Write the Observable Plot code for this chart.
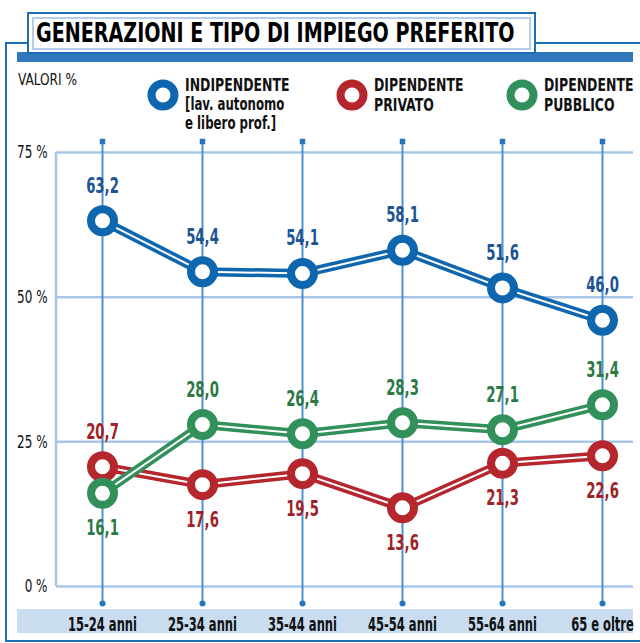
<!DOCTYPE html>
<html>
<head>
<meta charset="utf-8">
<script src="https://cdn.jsdelivr.net/npm/d3@7"></script>
<script src="https://cdn.jsdelivr.net/npm/@observablehq/plot@0.6"></script>
<style>
  html, body { margin: 0; padding: 0; background: #fff; }
  body { font-family: "DejaVu Sans Condensed", "Liberation Sans Narrow", sans-serif; }
  #wrap { position: relative; width: 640px; height: 643px; overflow: hidden; background: #fff; }
  .abs { position: absolute; }
  #frame { left: 5px; top: 42px; width: 700px; height: 596px; border: 2.5px solid #1b6db5; }
  #bandTop { left: 17px; top: 52px; width: 616px; height: 10px; background: #2f78bc; }
  #bandBottom { left: 17px; top: 609px; width: 616px; height: 24px; background: #c9dcf0; }
  #title { left: 27px; top: 12px; width: 505px; height: 38px; border: 2.5px solid #1d6db5; background: #fff; padding: 0; }
  #titleInner { position: absolute; left: 3px; top: 3px; right: 3px; bottom: 2px; border: 2px solid #b3cdea; }
  #titleText { position: absolute; left: 2px; top: -1px; font-weight: bold; font-size: 26px; line-height: 30px; color: #000; white-space: nowrap; transform: scaleX(0.817); transform-origin: 0 50%; }
  #valori { left: 18px; top: 71px; font-size: 15px; line-height: 18px; color: #111; white-space: nowrap; transform: scaleX(0.9); transform-origin: 0 50%; }
  .legText { font-weight: bold; font-size: 18px; line-height: 19.5px; color: #111; white-space: nowrap; top: 75px; transform: scaleX(0.77); transform-origin: 0 50%; }
  .legText .small { font-size: 17px; }
  #chart { left: 0; top: 0; }
  #chart svg { overflow: visible; }
  g[aria-label="x-axis tick label"] text { font-weight: bold; }
</style>
</head>
<body>
<div id="wrap">
  <div id="frame" class="abs"></div>
  <div id="bandTop" class="abs"></div>
  <div id="bandBottom" class="abs"></div>
  <div id="title" class="abs"><div id="titleInner"><div id="titleText">GENERAZIONI E TIPO DI IMPIEGO PREFERITO</div></div></div>
  <div id="valori" class="abs">VALORI %</div>
  <div id="legend"></div>
  <div id="chart" class="abs"></div>
</div>
<script>
const categories = ["15-24 anni", "25-34 anni", "35-44 anni", "45-54 anni", "55-64 anni", "65 e oltre"];
const indipendente = [63.2, 54.4, 54.1, 58.1, 51.6, 46.0];
const privato = [20.7, 17.6, 19.5, 13.6, 21.3, 22.6];
const pubblico = [16.1, 28.0, 26.4, 28.3, 27.1, 31.4];
const yTicks = [0, 25, 50, 75];
const yTickLabels = ["0 %", "25 %", "50 %", "75 %"];
const seriesNames = ["INDIPENDENTE", "DIPENDENTE PRIVATO", "DIPENDENTE PUBBLICO"];
const legendLines = [
  ["INDIPENDENTE", "[lav. autonomo", "e libero prof.]"],
  ["DIPENDENTE", "PRIVATO"],
  ["DIPENDENTE", "PUBBLICO"]
];

const colors = {
  "INDIPENDENTE": {stroke: "#0e66ae", label: "#1b5592"},
  "DIPENDENTE PRIVATO": {stroke: "#b5262d", label: "#9e2328"},
  "DIPENDENTE PUBBLICO": {stroke: "#32905a", label: "#2b7a45"}
};

const valuesBySeries = {
  "INDIPENDENTE": indipendente,
  "DIPENDENTE PRIVATO": privato,
  "DIPENDENTE PUBBLICO": pubblico
};

function rows(name) {
  return categories.map((c, i) => {
    const v = valuesBySeries[name][i];
    let above = true;
    if (name === "DIPENDENTE PRIVATO") above = v > pubblico[i];
    if (name === "DIPENDENTE PUBBLICO") above = v > privato[i];
    return {cat: c, value: v, series: name, above};
  });
}

const fmt = v => v.toFixed(1).replace(".", ",");

const marginLeft = 56, marginRight = 7, marginTop = 141, marginBottom = 40;

const drawOrder = ["DIPENDENTE PRIVATO", "DIPENDENTE PUBBLICO", "INDIPENDENTE"];
const seriesMarks = [];
for (const name of drawOrder) {
  const d = rows(name);
  const c = colors[name];
  seriesMarks.push(
    Plot.line(d, {x: "cat", y: "value", stroke: c.stroke, strokeWidth: 9, strokeLinejoin: "round"}),
    Plot.line(d, {x: "cat", y: "value", stroke: "#fff", strokeWidth: 2}),
    Plot.dot(d, {x: "cat", y: "value", r: 11.5, stroke: c.stroke, strokeWidth: 8, fill: "#fff"})
  );
}
const labelMarks = [];
for (const name of drawOrder) {
  const d = rows(name);
  const c = colors[name];
  labelMarks.push(
    Plot.text(d.filter(r => r.above), {x: "cat", y: "value", text: r => fmt(r.value), dy: -35, lineAnchor: "middle", fill: c.label, fontSize: 22, fontWeight: "bold"}),
    Plot.text(d.filter(r => !r.above), {x: "cat", y: "value", text: r => fmt(r.value), dy: 35, lineAnchor: "middle", fill: c.label, fontSize: 22, fontWeight: "bold"})
  );
}

const chart = Plot.plot({
  width: 640,
  height: 643,
  marginLeft, marginRight, marginTop, marginBottom,
  style: {background: "transparent", fontFamily: "'DejaVu Sans Condensed', 'Liberation Sans Narrow', sans-serif", color: "#111", overflow: "visible"},
  x: {type: "point", domain: categories, padding: 0, insetLeft: 45, insetRight: 31},
  y: {domain: [0, 75], insetTop: 11, insetBottom: 17},
  marks: [
    Plot.ruleY(yTicks, {stroke: "#a8c7e8", strokeWidth: 2.5}),
    Plot.ruleX(categories, {stroke: "#4d92d0", strokeWidth: 2}),
    Plot.dot(categories, {x: d => d, frameAnchor: "top", symbol: "square", r: 3.1, fill: "#2575bb"}),
    Plot.dot(categories, {x: d => d, frameAnchor: "bottom", r: 3, fill: "#2575bb"}),
    Plot.axisY({ticks: yTicks, tickFormat: d => yTickLabels[yTicks.indexOf(d)], tickSize: 0, tickPadding: 9, fontSize: 18, label: null}),
    Plot.axisX({tickSize: 0, tickPadding: 13, fontSize: 20, fontWeight: "bold", label: null}),
    ...seriesMarks,
    ...labelMarks
  ]
});

// left border of the plotting area, positioned with the library's y scale
const ys = chart.scale("y");
d3.select(chart).insert("line", ":first-child")
  .attr("x1", marginLeft).attr("x2", marginLeft)
  .attr("y1", ys.apply(75)).attr("y2", ys.apply(0))
  .attr("stroke", "#a8c7e8").attr("stroke-width", 2.5);

document.getElementById("chart").appendChild(chart);

// condense the svg texts horizontally (the original uses a condensed face)
function squeeze(selector, k) {
  d3.select(chart).selectAll(selector).each(function() {
    const L = this.getComputedTextLength();
    this.setAttribute("textLength", (L * k).toFixed(1));
    this.setAttribute("lengthAdjust", "spacingAndGlyphs");
  });
}
squeeze('g[aria-label="text"] text', 0.67);
squeeze('g[aria-label="x-axis tick label"] text', 0.64);
squeeze('g[aria-label="y-axis tick label"] text', 0.74);

// legend
const legendPos = [{cx: 163, tx: 185}, {cx: 352, tx: 374}, {cx: 522, tx: 544}];
const legend = document.getElementById("legend");
seriesNames.forEach((name, i) => {
  const p = legendPos[i];
  const svg = document.createElementNS("http://www.w3.org/2000/svg", "svg");
  svg.setAttribute("width", 40); svg.setAttribute("height", 40);
  svg.style.position = "absolute";
  svg.style.left = (p.cx - 20) + "px";
  svg.style.top = (95 - 20) + "px";
  const circ = document.createElementNS("http://www.w3.org/2000/svg", "circle");
  circ.setAttribute("cx", 20); circ.setAttribute("cy", 20); circ.setAttribute("r", 11.5);
  circ.setAttribute("fill", "#fff"); circ.setAttribute("stroke", colors[name].stroke); circ.setAttribute("stroke-width", 8);
  svg.appendChild(circ);
  legend.appendChild(svg);
  const t = document.createElement("div");
  t.className = "abs legText";
  t.style.left = p.tx + "px";
  t.innerHTML = legendLines[i].map((l, j) => j === 0 || i > 0 ? `<div>${l}</div>` : `<div class="small">${l}</div>`).join("");
  legend.appendChild(t);
});
</script>
</body>
</html>
